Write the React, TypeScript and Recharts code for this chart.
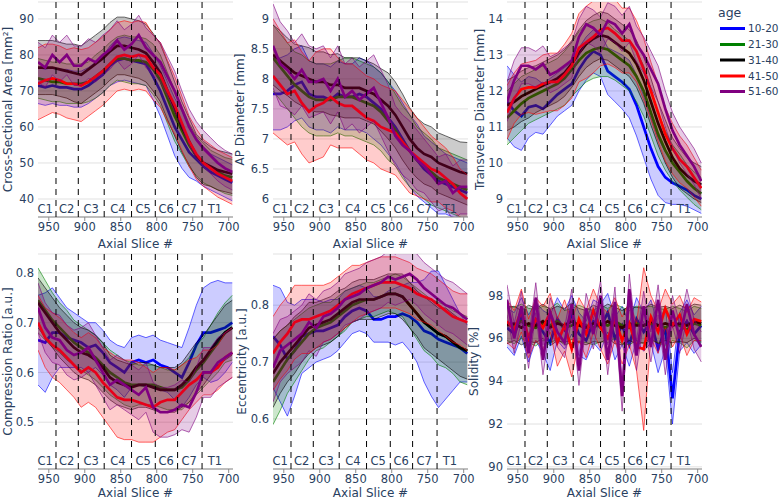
import React from 'react';
import { ComposedChart, Line, Area, XAxis, YAxis, CartesianGrid, ReferenceLine, ReferenceDot } from 'recharts';

// ---------- shared categories ----------
const slices = [965, 955, 945, 935, 925, 915, 905, 895, 885, 875, 865, 855, 845, 835, 825, 815, 805, 795, 785, 775, 765, 755, 745, 735, 725, 715, 705, 695];
const ageGroups = ['10-20', '21-30', '31-40', '41-50', '51-60'];
const groupColors = ['#0000ff', '#008000', '#000000', '#ff0000', '#800080'];
const groupFills = ['rgba(0,0,255,0.2)', 'rgba(0,128,0,0.2)', 'rgba(0,0,0,0.2)', 'rgba(255,0,0,0.2)', 'rgba(128,0,128,0.2)'];
const levelBoundaries = [940, 909, 873, 835, 802, 771, 737];
const levelNames = ['C1', 'C2', 'C3', 'C4', 'C5', 'C6', 'C7', 'T1'];
const levelCenters = [955, 925, 891, 854, 819, 787, 755, 719];
const xTicks = [950, 900, 850, 800, 750, 700];

// ---------- Cross-Sectional Area [mm²] ----------
const csa1020 = [71.5, 71, 71.5, 71, 71, 70.5, 70.5, 71.5, 73, 74.5, 77, 78.5, 79, 78.5, 78, 77.5, 74, 70, 65, 60, 56.5, 53, 51, 49, 47.5, 46.5, 45.5, 44.5];
const csaSd1020 = [5, 5, 5, 5, 5, 5, 5, 5, 5, 5, 5.5, 6, 6, 6, 6, 6, 6.5, 7, 7.5, 8, 8, 7, 6, 5.5, 5, 5, 5, 5];
const csa2130 = [73.5, 73, 72.5, 72.5, 72, 72, 72, 72.5, 74, 75.5, 77.5, 79, 79, 78.5, 78.5, 78, 76, 73, 68, 63, 59, 55, 52, 50, 48.5, 47.5, 46.5, 46];
const csaSd2130 = [5.5, 5.5, 5.5, 5.5, 5.5, 5.5, 5.5, 5.5, 6, 6, 6, 6, 6.5, 6.5, 6.5, 6.5, 7, 7, 7, 7, 6.5, 6, 5.5, 5.5, 5, 5, 5, 5];
const csa3140 = [76.5, 76.5, 76.5, 76, 75.5, 75, 74.5, 76, 77.5, 79, 81, 82.5, 82.5, 82, 81.5, 80.5, 78, 75, 70, 65, 60, 56, 52, 50, 49, 48, 47.5, 47];
const csaSd3140 = [7.5, 7.5, 7.5, 7.5, 7.5, 8, 8, 8, 8, 8, 8, 8, 8, 8, 8, 8, 8, 8, 8, 7.5, 7, 6.5, 6, 6, 5.5, 5.5, 5.5, 5.5];
const csa4150 = [72, 73, 73.5, 73, 72, 72, 71.5, 72.5, 74, 75.5, 77.5, 79.5, 80, 79.5, 80, 79.5, 76.5, 74.5, 70, 66, 61, 56, 52.5, 50, 48.5, 47, 46, 45];
const csaSd4150 = [10, 10, 9.5, 9.5, 9.5, 10, 10, 9.5, 9.5, 9.5, 9.5, 9.5, 9.5, 9.5, 9.5, 9.5, 9, 9, 8.5, 8, 7.5, 7, 7, 6.5, 6.5, 6.5, 6.5, 6.5];
const csa5160 = [78, 76.5, 80, 78, 80, 77, 77, 79, 78, 80, 81.5, 84, 81.5, 83, 85.5, 82, 80, 78, 74, 70, 65, 60, 56.5, 54, 52, 50, 48.5, 47.5];
const csaSd5160 = [5.5, 5.5, 5.5, 5.5, 5.5, 5.5, 5.5, 5.5, 5.5, 5.5, 5.5, 5.5, 5.5, 5.5, 5.5, 5.5, 5.5, 5.5, 5.5, 5.5, 5, 5, 5, 5, 5, 5, 5, 5];

// ---------- AP Diameter [mm] ----------
const ap1020 = [7.75, 7.75, 7.8, 7.9, 7.95, 7.75, 7.7, 7.7, 7.65, 7.75, 7.7, 7.7, 7.75, 7.7, 7.6, 7.5, 7.35, 7.2, 7.0, 6.8, 6.65, 6.5, 6.4, 6.3, 6.25, 6.2, 6.15, 6.1];
const apSd1020 = [0.6, 0.6, 0.6, 0.6, 0.6, 0.55, 0.55, 0.55, 0.55, 0.55, 0.55, 0.55, 0.6, 0.6, 0.6, 0.6, 0.6, 0.6, 0.6, 0.6, 0.6, 0.55, 0.55, 0.55, 0.5, 0.5, 0.5, 0.5];
const ap2130 = [8.35, 8.2, 8.05, 7.9, 7.8, 7.7, 7.65, 7.65, 7.65, 7.7, 7.7, 7.7, 7.65, 7.6, 7.55, 7.45, 7.3, 7.15, 6.95, 6.8, 6.65, 6.55, 6.45, 6.35, 6.3, 6.25, 6.2, 6.15];
const apSd2130 = [0.55, 0.55, 0.55, 0.55, 0.6, 0.6, 0.6, 0.6, 0.6, 0.6, 0.65, 0.65, 0.65, 0.65, 0.65, 0.65, 0.65, 0.6, 0.6, 0.6, 0.55, 0.55, 0.55, 0.5, 0.5, 0.5, 0.5, 0.5];
const ap3140 = [8.4, 8.3, 8.2, 8.1, 8.05, 8.0, 7.95, 7.95, 7.9, 7.9, 7.85, 7.85, 7.85, 7.8, 7.75, 7.65, 7.55, 7.4, 7.2, 7.0, 6.85, 6.75, 6.7, 6.6, 6.55, 6.5, 6.45, 6.42];
const apSd3140 = [0.5, 0.5, 0.48, 0.48, 0.5, 0.52, 0.5, 0.5, 0.5, 0.52, 0.5, 0.5, 0.5, 0.5, 0.5, 0.52, 0.55, 0.55, 0.55, 0.52, 0.5, 0.5, 0.5, 0.5, 0.5, 0.5, 0.5, 0.52];
const ap4150 = [8.05, 7.9, 7.75, 7.8, 7.6, 7.45, 7.55, 7.6, 7.7, 7.6, 7.55, 7.55, 7.45, 7.35, 7.3, 7.2, 7.15, 7.1, 6.95, 6.8, 6.7, 6.6, 6.5, 6.45, 6.35, 6.25, 6.1, 6.0];
const apSd4150 = [0.95, 0.9, 0.85, 0.85, 0.85, 0.85, 0.9, 0.9, 0.8, 0.75, 0.7, 0.7, 0.7, 0.7, 0.7, 0.7, 0.7, 0.7, 0.7, 0.7, 0.65, 0.6, 0.55, 0.5, 0.5, 0.45, 0.4, 0.4];
const ap5160 = [8.55, 8.25, 8.15, 8.0, 8.15, 7.95, 7.95, 8.0, 7.8, 8.0, 7.7, 7.8, 7.65, 7.75, 7.85, 7.6, 7.35, 7.05, 6.9, 6.8, 6.65, 6.55, 6.4, 6.25, 6.3, 6.1, 6.2, 6.2];
const apSd5160 = [0.7, 0.7, 0.65, 0.6, 0.6, 0.6, 0.55, 0.55, 0.55, 0.55, 0.55, 0.55, 0.55, 0.55, 0.55, 0.55, 0.55, 0.5, 0.5, 0.5, 0.5, 0.45, 0.45, 0.45, 0.45, 0.45, 0.45, 0.45];

// ---------- Transverse Diameter [mm] ----------
const td1020 = [11.7, 11.45, 11.3, 11.55, 11.6, 11.5, 11.7, 11.9, 12.05, 12.2, 12.6, 12.9, 13.1, 13.0, 12.55, 12.4, 12.25, 12.05, 11.6, 11.0, 10.4, 9.9, 9.6, 9.45, 9.35, 9.25, 9.1, 9.0];
const tdSd1020 = [1.0, 1.0, 0.95, 0.85, 0.75, 0.7, 0.65, 0.6, 0.6, 0.6, 0.6, 0.6, 0.6, 0.6, 0.65, 0.7, 0.75, 0.8, 0.85, 0.85, 0.85, 0.8, 0.7, 0.6, 0.5, 0.45, 0.4, 0.4];
const td2130 = [11.25, 11.45, 11.65, 11.8, 11.9, 12.0, 12.1, 12.2, 12.35, 12.6, 12.85, 13.05, 13.15, 13.2, 13.15, 13.0, 12.85, 12.7, 12.4, 12.0, 11.4, 10.8, 10.35, 10.0, 9.75, 9.5, 9.3, 9.15];
const tdSd2130 = [0.75, 0.75, 0.75, 0.7, 0.7, 0.7, 0.7, 0.7, 0.75, 0.75, 0.8, 0.8, 0.8, 0.8, 0.75, 0.7, 0.7, 0.7, 0.7, 0.7, 0.65, 0.6, 0.55, 0.5, 0.5, 0.45, 0.45, 0.45];
const td3140 = [11.6, 11.7, 11.85, 11.95, 12.05, 12.15, 12.25, 12.35, 12.5, 12.75, 13.05, 13.3, 13.45, 13.55, 13.5, 13.35, 13.2, 13.05, 12.75, 12.3, 11.7, 11.1, 10.6, 10.15, 9.85, 9.65, 9.5, 9.4];
const tdSd3140 = [0.7, 0.7, 0.7, 0.7, 0.65, 0.65, 0.65, 0.65, 0.65, 0.65, 0.65, 0.65, 0.65, 0.65, 0.65, 0.65, 0.65, 0.65, 0.65, 0.65, 0.65, 0.6, 0.6, 0.55, 0.55, 0.5, 0.5, 0.5];
const td4150 = [11.4, 11.8, 12.05, 12.1, 12.1, 12.2, 12.25, 12.25, 12.45, 12.7, 13.2, 13.35, 13.5, 13.7, 13.75, 13.6, 13.4, 13.4, 13.1, 12.6, 12.0, 11.4, 10.8, 10.4, 10.1, 9.9, 9.6, 9.3];
const tdSd4150 = [0.75, 0.7, 0.7, 0.7, 0.75, 0.8, 0.8, 0.8, 0.85, 0.9, 0.95, 1.0, 1.0, 1.0, 1.0, 0.95, 0.9, 0.9, 0.85, 0.85, 0.8, 0.8, 0.75, 0.7, 0.65, 0.6, 0.55, 0.5];
const td5160 = [11.7, 12.3, 12.7, 12.7, 12.6, 12.75, 12.45, 12.55, 12.7, 12.85, 13.5, 13.85, 13.75, 13.55, 13.95, 13.85, 13.6, 13.85, 13.3, 13.0, 12.6, 12.2, 11.5, 10.9, 10.5, 10.2, 9.9, 9.5];
const tdSd5160 = [0.55, 0.55, 0.5, 0.5, 0.5, 0.5, 0.5, 0.5, 0.5, 0.5, 0.5, 0.5, 0.5, 0.5, 0.5, 0.5, 0.5, 0.5, 0.5, 0.5, 0.5, 0.5, 0.5, 0.5, 0.5, 0.5, 0.5, 0.5];

// ---------- Compression Ratio [a.u.] ----------
const cr1020 = [0.665, 0.66, 0.68, 0.68, 0.67, 0.665, 0.66, 0.65, 0.655, 0.64, 0.62, 0.61, 0.6, 0.62, 0.625, 0.62, 0.625, 0.615, 0.61, 0.6, 0.59, 0.62, 0.655, 0.68, 0.68, 0.685, 0.69, 0.7];
const crSd1020 = [0.09, 0.1, 0.09, 0.07, 0.06, 0.055, 0.05, 0.05, 0.045, 0.045, 0.045, 0.045, 0.05, 0.05, 0.05, 0.05, 0.05, 0.05, 0.05, 0.055, 0.06, 0.07, 0.08, 0.09, 0.1, 0.1, 0.09, 0.08];
const cr2130 = [0.745, 0.725, 0.705, 0.69, 0.675, 0.66, 0.65, 0.64, 0.63, 0.615, 0.6, 0.59, 0.58, 0.575, 0.575, 0.575, 0.575, 0.57, 0.565, 0.565, 0.57, 0.585, 0.605, 0.62, 0.64, 0.66, 0.68, 0.69];
const crSd2130 = [0.065, 0.06, 0.055, 0.05, 0.05, 0.045, 0.045, 0.045, 0.045, 0.045, 0.045, 0.045, 0.045, 0.045, 0.04, 0.04, 0.04, 0.04, 0.04, 0.04, 0.045, 0.045, 0.05, 0.05, 0.055, 0.06, 0.06, 0.065];
const cr3140 = [0.74, 0.72, 0.7, 0.68, 0.665, 0.65, 0.64, 0.635, 0.625, 0.61, 0.59, 0.58, 0.575, 0.57, 0.575, 0.575, 0.57, 0.565, 0.565, 0.565, 0.575, 0.59, 0.61, 0.625, 0.645, 0.665, 0.68, 0.69];
const crSd3140 = [0.05, 0.05, 0.05, 0.05, 0.05, 0.05, 0.05, 0.05, 0.05, 0.05, 0.045, 0.045, 0.045, 0.045, 0.045, 0.045, 0.045, 0.045, 0.045, 0.045, 0.045, 0.05, 0.05, 0.05, 0.05, 0.05, 0.055, 0.055];
const cr4150 = [0.7, 0.67, 0.655, 0.645, 0.63, 0.615, 0.6, 0.61, 0.6, 0.58, 0.565, 0.55, 0.545, 0.545, 0.54, 0.535, 0.53, 0.54, 0.545, 0.545, 0.56, 0.575, 0.585, 0.6, 0.6, 0.61, 0.63, 0.64];
const crSd4150 = [0.055, 0.06, 0.065, 0.065, 0.065, 0.065, 0.07, 0.07, 0.07, 0.07, 0.075, 0.08, 0.08, 0.08, 0.08, 0.075, 0.07, 0.07, 0.065, 0.06, 0.055, 0.05, 0.045, 0.045, 0.045, 0.045, 0.05, 0.05];
const cr5160 = [0.73, 0.69, 0.67, 0.665, 0.645, 0.635, 0.64, 0.65, 0.625, 0.6, 0.575, 0.585, 0.575, 0.565, 0.555, 0.57, 0.53, 0.52, 0.52, 0.525, 0.535, 0.53, 0.56, 0.6, 0.6, 0.62, 0.63, 0.64];
const crSd5160 = [0.05, 0.05, 0.05, 0.05, 0.05, 0.05, 0.05, 0.05, 0.05, 0.05, 0.05, 0.05, 0.05, 0.05, 0.05, 0.05, 0.05, 0.05, 0.05, 0.05, 0.05, 0.05, 0.05, 0.05, 0.05, 0.05, 0.05, 0.05];

// ---------- Eccentricity [a.u.] ----------
const ecc1020 = [0.745, 0.73, 0.705, 0.72, 0.745, 0.75, 0.755, 0.755, 0.76, 0.765, 0.78, 0.79, 0.795, 0.79, 0.775, 0.775, 0.78, 0.78, 0.785, 0.78, 0.77, 0.755, 0.75, 0.74, 0.735, 0.73, 0.725, 0.715];
const eccSd1020 = [0.09, 0.1, 0.1, 0.08, 0.065, 0.06, 0.055, 0.05, 0.05, 0.045, 0.045, 0.04, 0.04, 0.04, 0.04, 0.04, 0.045, 0.05, 0.05, 0.06, 0.07, 0.09, 0.11, 0.12, 0.1, 0.08, 0.06, 0.05];
const ecc2130 = [0.665, 0.685, 0.705, 0.72, 0.735, 0.75, 0.76, 0.765, 0.77, 0.78, 0.79, 0.8, 0.805, 0.81, 0.81, 0.815, 0.82, 0.82, 0.815, 0.8, 0.785, 0.77, 0.76, 0.75, 0.745, 0.735, 0.725, 0.72];
const eccSd2130 = [0.075, 0.07, 0.06, 0.055, 0.05, 0.045, 0.04, 0.04, 0.035, 0.035, 0.035, 0.03, 0.03, 0.03, 0.03, 0.03, 0.03, 0.035, 0.035, 0.04, 0.045, 0.05, 0.05, 0.055, 0.055, 0.055, 0.06, 0.06];
const ecc3140 = [0.68, 0.7, 0.715, 0.73, 0.745, 0.76, 0.765, 0.77, 0.775, 0.785, 0.795, 0.805, 0.81, 0.81, 0.81, 0.815, 0.82, 0.82, 0.815, 0.8, 0.785, 0.77, 0.76, 0.75, 0.745, 0.735, 0.725, 0.72];
const eccSd3140 = [0.06, 0.055, 0.05, 0.05, 0.045, 0.045, 0.04, 0.04, 0.04, 0.04, 0.035, 0.035, 0.035, 0.035, 0.035, 0.035, 0.035, 0.035, 0.04, 0.04, 0.04, 0.045, 0.045, 0.045, 0.05, 0.05, 0.05, 0.05];
const ecc4150 = [0.715, 0.735, 0.75, 0.77, 0.775, 0.775, 0.78, 0.785, 0.79, 0.8, 0.81, 0.82, 0.825, 0.83, 0.835, 0.84, 0.84, 0.84, 0.835, 0.83, 0.82, 0.815, 0.81, 0.8, 0.79, 0.78, 0.775, 0.77];
const eccSd4150 = [0.065, 0.065, 0.065, 0.065, 0.06, 0.06, 0.055, 0.05, 0.05, 0.05, 0.05, 0.05, 0.045, 0.045, 0.045, 0.045, 0.045, 0.045, 0.045, 0.045, 0.045, 0.045, 0.045, 0.045, 0.045, 0.045, 0.045, 0.05];
const ecc5160 = [0.69, 0.72, 0.73, 0.74, 0.75, 0.77, 0.76, 0.78, 0.785, 0.795, 0.81, 0.815, 0.82, 0.83, 0.835, 0.84, 0.85, 0.845, 0.85, 0.855, 0.845, 0.83, 0.82, 0.81, 0.8, 0.795, 0.785, 0.775];
const eccSd5160 = [0.06, 0.055, 0.05, 0.05, 0.05, 0.05, 0.05, 0.045, 0.045, 0.045, 0.045, 0.045, 0.045, 0.045, 0.045, 0.045, 0.045, 0.045, 0.045, 0.045, 0.045, 0.045, 0.045, 0.045, 0.045, 0.045, 0.045, 0.045];

// ---------- Solidity [%] ----------
const sol1020 = [96.5, 96.2, 97.0, 96.0, 96.8, 96.3, 95.8, 96.9, 96.4, 97.1, 96.2, 95.9, 96.8, 96.5, 97.2, 96.0, 96.6, 95.7, 96.9, 96.3, 96.8, 95.5, 96.5, 93.2, 96.3, 96.8, 96.2, 96.6];
const solSd1020 = [0.9, 1.0, 0.9, 1.1, 0.9, 1.0, 1.3, 1.0, 0.9, 0.9, 1.0, 0.9, 1.0, 1.1, 0.9, 1.0, 0.9, 1.0, 1.0, 0.9, 1.0, 1.1, 1.0, 1.2, 0.9, 1.0, 0.9, 0.9];
const sol2130 = [96.7, 96.6, 96.8, 96.6, 96.5, 96.7, 96.6, 96.8, 96.5, 96.6, 96.7, 96.6, 96.5, 96.7, 96.6, 96.8, 96.6, 96.5, 96.7, 96.6, 96.7, 96.6, 96.5, 96.7, 96.6, 96.4, 96.7, 96.6];
const solSd2130 = [0.8, 0.85, 0.8, 0.8, 0.85, 0.8, 0.8, 0.85, 0.8, 0.8, 0.85, 0.8, 0.8, 0.85, 0.8, 0.8, 0.85, 0.8, 0.8, 0.85, 0.8, 0.8, 0.85, 0.8, 0.8, 0.85, 0.8, 0.8];
const sol3140 = [96.6, 96.7, 96.5, 96.7, 96.6, 96.8, 96.5, 96.7, 96.6, 96.8, 96.6, 96.5, 96.7, 96.6, 96.8, 96.6, 96.5, 96.7, 96.6, 96.6, 96.8, 96.6, 96.7, 96.6, 96.7, 96.6, 96.8, 96.7];
const solSd3140 = [0.85, 0.8, 0.8, 0.85, 0.8, 0.8, 0.85, 0.8, 0.8, 0.85, 0.8, 0.8, 0.85, 0.8, 0.8, 0.85, 0.8, 0.8, 0.85, 0.8, 0.8, 0.85, 0.8, 0.8, 0.85, 0.8, 0.8, 0.85];
const sol4150 = [96.8, 96.4, 97.3, 96.0, 96.9, 96.5, 97.2, 95.8, 96.6, 95.5, 96.9, 96.2, 97.3, 96.5, 96.0, 96.9, 95.9, 96.7, 95.6, 95.5, 97.0, 96.3, 97.4, 96.6, 97.1, 96.2, 96.9, 96.8];
const solSd4150 = [1.0, 0.9, 1.0, 0.9, 1.0, 1.0, 0.9, 1.1, 1.2, 1.3, 1.0, 1.1, 1.0, 1.0, 1.2, 1.0, 1.1, 1.0, 1.1, 3.8, 1.0, 1.0, 0.9, 1.0, 0.9, 1.0, 1.0, 0.9];
const sol5160 = [97.8, 96.0, 97.5, 95.3, 97.9, 95.0, 97.2, 96.3, 95.8, 97.6, 94.5, 97.4, 96.2, 98.0, 95.0, 97.7, 93.3, 98.3, 95.2, 97.5, 95.6, 97.8, 95.0, 97.3, 96.0, 97.6, 96.2, 95.6];
const solSd5160 = [0.7, 0.7, 0.7, 0.7, 0.7, 0.7, 0.7, 0.7, 0.7, 0.7, 0.7, 0.7, 0.7, 0.7, 0.7, 0.7, 0.7, 0.7, 0.7, 0.7, 0.7, 0.7, 0.7, 0.7, 0.7, 0.7, 0.7, 0.7];

const TEXT = '#2a3f5f';
const FONT = '"DejaVu Sans", Verdana, sans-serif';
const AXIS_W = 60;
const BOX_W = 275;
const RIGHT_PAD = 20;

type PanelProps = {
  plotLeft: number;
  top: number;
  means: number[][];
  sds: number[][];
  domain: [number, number];
  ticks: number[];
  title: string;
  titleX: number;
  xTitleOffset: number;
};

function Panel({ plotLeft, top, means, sds, domain, ticks, title, titleX, xTitleOffset }: PanelProps) {
  const data = slices.map((s, i) => {
    const row: Record<string, any> = { slice: s };
    means.forEach((m, g) => {
      row['m' + g] = m[i];
      row['b' + g] = [m[i] - sds[g][i], m[i] + sds[g][i]];
    });
    return row;
  });
  const boxLeft = plotLeft - AXIS_W;
  const titleDx = titleX - (boxLeft + AXIS_W / 2);
  const series = ageGroups.flatMap((name, g) => [
    <Area
      key={'band' + g}
      dataKey={'b' + g}
      type="linear"
      stroke={groupColors[g]}
      strokeWidth={0.6}
      fill={groupFills[g]}
      fillOpacity={1}
      isAnimationActive={false}
      dot={false}
      activeDot={false}
      name={name + ' band'}
      zIndex={100 + g * 2}
    />,
    <Line
      key={'line' + g}
      dataKey={'m' + g}
      type="linear"
      stroke={groupColors[g]}
      strokeWidth={2.7}
      dot={false}
      activeDot={false}
      isAnimationActive={false}
      name={name}
      zIndex={101 + g * 2}
    />,
  ]);
  return (
    <div style={{ position: 'absolute', left: boxLeft, top }}>
      <ComposedChart width={BOX_W} height={260} data={data} margin={{ top: 2, right: RIGHT_PAD, bottom: 3, left: 0 }}>
        <CartesianGrid vertical={false} stroke="#e1e1e1" strokeWidth={1} />
        <XAxis
          dataKey="slice"
          type="number"
          domain={[694, 965]}
          reversed
          allowDataOverflow
          ticks={xTicks}
          height={40}
          tickSize={4}
          tickMargin={2}
          axisLine={{ stroke: '#8c8c8c' }}
          tickLine={{ stroke: '#8c8c8c' }}
          tick={{ fill: TEXT, fontSize: 11.5 }}
          label={{ value: 'Axial Slice #', position: 'insideBottom', offset: xTitleOffset, fill: TEXT, fontSize: 12 }}
        />
        <YAxis
          type="number"
          domain={domain}
          allowDataOverflow
          ticks={ticks}
          width={AXIS_W}
          tickSize={0}
          tickMargin={4}
          axisLine={false}
          tickLine={false}
          tick={{ fill: TEXT, fontSize: 11.5 }}
          label={{ value: title, angle: -90, position: 'center', dx: titleDx, fill: TEXT, fontSize: 12 }}
        />
        {series}
        {levelBoundaries.map((b) => (
          <ReferenceLine key={'v' + b} x={b} stroke="#000" strokeWidth={1} strokeDasharray="6 5" zIndex={1000} />
        ))}
        {levelNames.map((n, i) => (
          <ReferenceDot
            key={n}
            x={levelCenters[i]}
            y={domain[0]}
            r={0}
            fill="none"
            stroke="none"
            ifOverflow="visible"
            zIndex={1100}
            label={{ value: n, position: 'top', offset: 4, fill: TEXT, fontSize: 11.5 }}
          />
        ))}
      </ComposedChart>
    </div>
  );
}

function AgeLegend() {
  const rowY = [28.5, 44.5, 60, 76, 91.5];
  return (
    <svg width={80} height={110} style={{ position: 'absolute', left: 700, top: 0 }}>
      <text x={18} y={17} fill={TEXT} fontSize={12.5}>age</text>
      {ageGroups.map((name, g) => (
        <g key={name}>
          <line x1={20} x2={45} y1={rowY[g]} y2={rowY[g]} stroke={groupColors[g]} strokeWidth={3} />
          <text x={48} y={rowY[g]} dy="0.35em" fill={TEXT} fontSize={10.5}>{name}</text>
        </g>
      ))}
    </svg>
  );
}

export default function App() {
  return (
    <div
      style={{
        position: 'fixed',
        left: 0,
        top: 0,
        width: 780,
        height: 502,
        overflow: 'hidden',
        background: '#fff',
        fontFamily: FONT,
      }}
    >
      <Panel plotLeft={38} top={0} means={[csa1020, csa2130, csa3140, csa4150, csa5160]} sds={[csaSd1020, csaSd2130, csaSd3140, csaSd4150, csaSd5160]} domain={[35, 94.7]} ticks={[40, 50, 60, 70, 80, 90]} title="Cross-Sectional Area [mm²]" titleX={8} xTitleOffset={9} />
      <Panel plotLeft={273} top={0} means={[ap1020, ap2130, ap3140, ap4150, ap5160]} sds={[apSd1020, apSd2130, apSd3140, apSd4150, apSd5160]} domain={[5.7, 9.28]} ticks={[6, 6.5, 7, 7.5, 8, 8.5, 9]} title="AP Diameter [mm]" titleX={240} xTitleOffset={9} />
      <Panel plotLeft={507} top={0} means={[td1020, td2130, td3140, td4150, td5160]} sds={[tdSd1020, tdSd2130, tdSd3140, tdSd4150, tdSd5160]} domain={[8.5, 14.47]} ticks={[9, 10, 11, 12, 13, 14]} title="Transverse Diameter [mm]" titleX={480} xTitleOffset={9} />
      <Panel plotLeft={38} top={252} means={[cr1020, cr2130, cr3140, cr4150, cr5160]} sds={[crSd1020, crSd2130, crSd3140, crSd4150, crSd5160]} domain={[0.406, 0.838]} ticks={[0.5, 0.6, 0.7, 0.8]} title="Compression Ratio [a.u.]" titleX={8} xTitleOffset={12} />
      <Panel plotLeft={273} top={252} means={[ecc1020, ecc2130, ecc3140, ecc4150, ecc5160]} sds={[eccSd1020, eccSd2130, eccSd3140, eccSd4150, eccSd5160]} domain={[0.512, 0.89]} ticks={[0.6, 0.7, 0.8]} title="Eccentricity [a.u.]" titleX={242} xTitleOffset={12} />
      <Panel plotLeft={507} top={252} means={[sol1020, sol2130, sol3140, sol4150, sol5160]} sds={[solSd1020, solSd2130, solSd3140, solSd4150, solSd5160]} domain={[89.9, 99.94]} ticks={[90, 92, 94, 96, 98]} title="Solidity [%]" titleX={474} xTitleOffset={12} />
      <AgeLegend />
    </div>
  );
}
